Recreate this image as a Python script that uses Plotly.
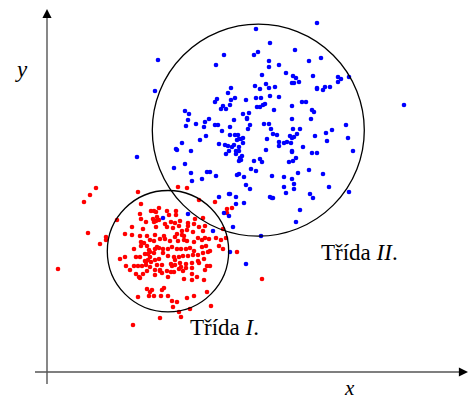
import plotly.graph_objects as go

# ---- data (units: origin at the axis crossing, y up) ----
blue_x = [209,270,223,248,177,207,211,274,262,222,232,169,111,222,239,215,246,249,266,291,294,302,291,245,247,252,
          108,184,208,219,213,222,228,270,270,276,278,283,181,170,168,184,188,199,209,214,223,232,255,259,245,176,
          174,179,183,210,213,216,218,227,265,267,138,142,196,202,200,200,245,264,141,158,162,149,157,168,171,187,
          183,203,217,222,139,175,183,188,191,192,194,196,190,201,224,226,230,246,253,285,279,299,243,245,247,250,
          220,232,232,237,240,244,268,280,301,135,153,159,172,178,181,185,187,192,196,129,130,144,182,189,192,219,
          245,245,256,265,270,306,179,189,193,195,194,192,207,213,215,242,246,249,138,127,144,160,163,169,190,192,
          197,204,209,225,237,245,251,262,276,155,145,199,203,247,237,247,282,263,266,302,172,182,183,189,189,197,
          223,225,226,239,253,249,186,177,182,141,166,214,357,116,183,199,90]
blue_y = [343,349,329,322,317,317,320,314,311,311,307,307,312,305,299,297,296,294,296,295,293,295,290,289,289,290,
          281,284,286,288,283,284,285,283,284,282,285,285,279,273,270,272,274,272,274,274,276,275,270,270,266,266,
          263,263,267,265,265,267,268,262,262,260,261,258,258,259,254,253,253,253,252,250,253,248,245,247,247,252,
          245,247,248,248,246,241,237,237,237,233,233,234,232,243,243,238,237,243,243,242,239,247,236,234,235,238,
          233,230,226,229,230,229,236,231,234,229,232,236,228,227,226,225,227,225,229,223,222,221,221,221,221,222,
          221,220,225,219,219,221,218,218,214,216,212,211,211,213,210,210,211,214,208,204,199,200,200,196,197,198,
          195,203,201,196,195,193,199,202,198,193,191,187,183,188,185,183,185,178,174,180,175,178,178,175,168,169,
          175,174,174,179,162,150,145,159,156,158,141,136,267,154,120,108,215]

red_x = [49,43,37,91,131,140,94,112,107,104,109,120,129,122,129,93,152,168,180,185,180,70,94,99,106,110,112,107,
         109,124,128,133,132,141,141,148,147,156,158,85,96,109,118,120,126,135,140,146,152,41,59,59,53,78,85,93,
         100,108,117,130,135,137,128,94,97,103,107,113,118,123,131,137,140,147,151,155,158,162,169,174,179,156,87,
         94,100,102,103,108,110,112,116,121,125,130,134,139,143,147,155,159,172,176,190,73,78,79,89,93,98,101,103,
         107,116,121,127,128,132,136,141,146,151,156,161,163,151,157,98,99,101,104,108,112,124,128,133,139,145,152,
         160,163,87,91,95,99,103,110,115,125,134,139,145,158,83,89,93,100,108,113,120,124,127,132,136,145,150,157,
         92,96,108,121,137,145,11,100,105,117,115,103,102,107,114,121,91,140,147,160,125,126,130,143,164,113,86,
         132,134,113,115,176,215]
red_y = [184,177,170,180,185,184,168,164,161,161,160,161,161,157,157,158,172,170,163,164,159,152,153,150,153,155,
         152,150,151,150,149,151,146,149,146,153,148,154,146,145,143,145,148,145,144,141,142,140,145,139,135,132,
         128,138,137,136,136,137,136,138,137,136,135,130,129,132,131,133,133,131,131,132,131,130,134,132,134,133,
         134,132,134,141,123,126,126,122,120,123,125,124,123,123,125,123,123,123,124,121,125,126,126,123,120,113,
         115,106,115,115,118,118,115,119,119,116,115,112,115,116,116,117,117,119,120,121,111,113,111,110,112,110,
         112,113,108,107,109,108,109,109,106,106,106,106,106,107,105,107,107,106,105,104,104,102,102,98,94,101,102,
         102,101,100,100,103,101,98,95,92,95,98,97,95,93,92,103,83,82,84,82,80,76,76,76,76,75,74,76,80,71,65,70,63,
         66,54,47,60,55,101,99,143,93]

# class regions: centre x, centre y, radius
circle_cx = [121.0, 211.3]
circle_cy = [120.8, 241.8]
circle_r = [60.7, 106.0]

class_labels = ["Třída <i>I</i>.", "Třída <i>II</i>."]
label_x = [141, 271.5]
label_y = [44.5, 119.5]

# axis extents
x_axis_start, x_axis_end = -12, 421
y_axis_start, y_axis_end = -12, 363

fig = go.Figure()
fig.add_trace(go.Scatter(x=red_x, y=red_y, mode="markers",
                         marker=dict(color="#ff0000", size=4.6, line=dict(width=0)),
                         hoverinfo="skip", showlegend=False))
fig.add_trace(go.Scatter(x=blue_x, y=blue_y, mode="markers",
                         marker=dict(color="#0000ff", size=4.6, line=dict(width=0)),
                         hoverinfo="skip", showlegend=False))

shapes = []
for cx, cy, r in zip(circle_cx, circle_cy, circle_r):
    shapes.append(dict(type="circle", xref="x", yref="y", x0=cx - r, x1=cx + r, y0=cy - r, y1=cy + r,
                       line=dict(color="#000000", width=1.3), layer="above"))
shapes.append(dict(type="line", xref="x", yref="y", x0=x_axis_start, x1=x_axis_end - 6, y0=0, y1=0,
                   line=dict(color="#555555", width=1.4)))
shapes.append(dict(type="line", xref="x", yref="y", x0=0, x1=0, y0=y_axis_start, y1=y_axis_end - 6,
                   line=dict(color="#555555", width=1.4)))

annotations = [
    dict(x=x_axis_end, y=0, xref="x", yref="y", ax=-9, ay=0, showarrow=True, arrowhead=2,
         arrowsize=1.3, arrowwidth=1.4, arrowcolor="#000000", standoff=0, text=""),
    dict(x=0, y=y_axis_end, xref="x", yref="y", ax=0, ay=9, showarrow=True, arrowhead=2,
         arrowsize=1.3, arrowwidth=1.4, arrowcolor="#000000", standoff=0, text=""),
    dict(x=-25.5, y=303, xref="x", yref="y", text="<i>y</i>", showarrow=False,
         font=dict(family="Liberation Serif", size=23, color="#000000")),
    dict(x=302, y=-16, xref="x", yref="y", text="<i>x</i>", showarrow=False, borderpad=0,
         yanchor="middle", font=dict(family="Liberation Serif", size=21, color="#000000")),
]
for t, lx, ly in zip(class_labels, label_x, label_y):
    annotations.append(dict(x=lx, y=ly, xref="x", yref="y", text=t, showarrow=False,
                            xanchor="left", yanchor="middle",
                            font=dict(family="Liberation Serif", size=23, color="#000000")))

fig.update_layout(
    width=468, height=401,
    margin=dict(l=0, r=0, t=0, b=0),
    paper_bgcolor="white", plot_bgcolor="white",
    xaxis=dict(range=[-47, 421], visible=False, fixedrange=True),
    yaxis=dict(range=[-29, 372], visible=False, fixedrange=True),
    shapes=shapes, annotations=annotations,
)
fig.write_html("out.html", config={"displayModeBar": False},
               post_script="document.body.style.margin='0';document.body.style.overflow='hidden';")
